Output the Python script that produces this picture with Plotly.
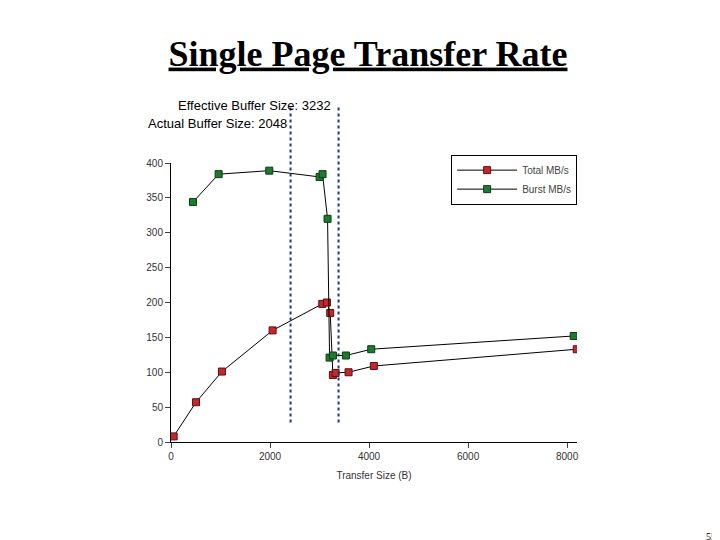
import plotly.graph_objects as go

total_x = [54, 505, 1029, 2052, 3055, 3149, 3216, 3270, 3324, 3586, 4097, 8195]
total_y = [8, 57, 101, 160, 198, 200, 185, 96, 99, 100, 109, 133]
burst_x = [444, 962, 1985, 3001, 3061, 3162, 3203, 3270, 3532, 4044, 8134]
burst_y = [344, 384, 389, 380, 384, 320, 121, 124, 124, 133, 152]
buffer_lines = [2415, 3384]

fig = go.Figure()
fig.add_trace(go.Scatter(x=total_x, y=total_y, name="Total MB/s", mode="lines+markers",
    line=dict(color="black", width=1),
    marker=dict(symbol="square", size=7, color="#c0282d", line=dict(color="#5a1010", width=1))))
fig.add_trace(go.Scatter(x=burst_x, y=burst_y, name="Burst MB/s", mode="lines+markers",
    line=dict(color="black", width=1),
    marker=dict(symbol="square", size=7, color="#1e7a2e", line=dict(color="#0e3a14", width=1))))
for bx in buffer_lines:
    fig.add_shape(type="line", xref="x", yref="paper", x0=bx, x1=bx, y0=0.07, y1=1.2,
                  line=dict(color="#1f3a7a", width=2, dash="dot"))

axis_font = dict(family="Liberation Sans, Arial", size=10, color="#333")
fig.update_layout(
    width=720, height=540, plot_bgcolor="white", paper_bgcolor="white",
    margin=dict(l=163, r=151, t=155, b=106, autoexpand=False),
    showlegend=True,
    legend=dict(x=0.69, y=1.03, xanchor="left", yanchor="top", bordercolor="black", borderwidth=1,
                font=dict(family="Liberation Sans, Arial", size=10, color="#444"),
                itemwidth=60, bgcolor="white", tracegroupgap=12),
    xaxis=dict(range=[0, 8200], tickvals=[0, 2000, 4000, 6000, 8000], showgrid=False, zeroline=False,
               showline=True, linecolor="black", ticks="outside", ticklen=5, tickfont=axis_font,
               title=dict(text="Transfer Size (B)", font=axis_font, standoff=10)),
    yaxis=dict(range=[0, 400], dtick=50, showgrid=False, zeroline=False, showline=True,
               linecolor="black", ticks="outside", ticklen=5, tickfont=axis_font),
    title=dict(text="<b><u>Single Page Transfer Rate</u></b>", x=0.5, xanchor="center", y=1 - 45/540,
               yanchor="middle", font=dict(family="Liberation Serif, Times New Roman", size=36, color="black")),
)
ann_font = dict(family="Liberation Sans, Arial", size=13, color="black")
fig.add_annotation(text="Effective Buffer Size: 3232", xref="paper", yref="paper", x=(168-163)/406,
                   y=(434-98)/279, xanchor="left", yanchor="middle", showarrow=False, font=ann_font)
fig.add_annotation(text="Actual Buffer Size: 2048", xref="paper", yref="paper", x=(281-163)/406,
                   y=(434-116)/279, xanchor="right", yanchor="middle", showarrow=False, font=ann_font)
fig.add_annotation(text="55", xref="paper", yref="paper", x=(710-163)/406, y=(434-528)/279,
                   xanchor="right", yanchor="middle", showarrow=False,
                   font=dict(family="Liberation Serif", size=10, color="black"))
fig.write_html("out.html")
